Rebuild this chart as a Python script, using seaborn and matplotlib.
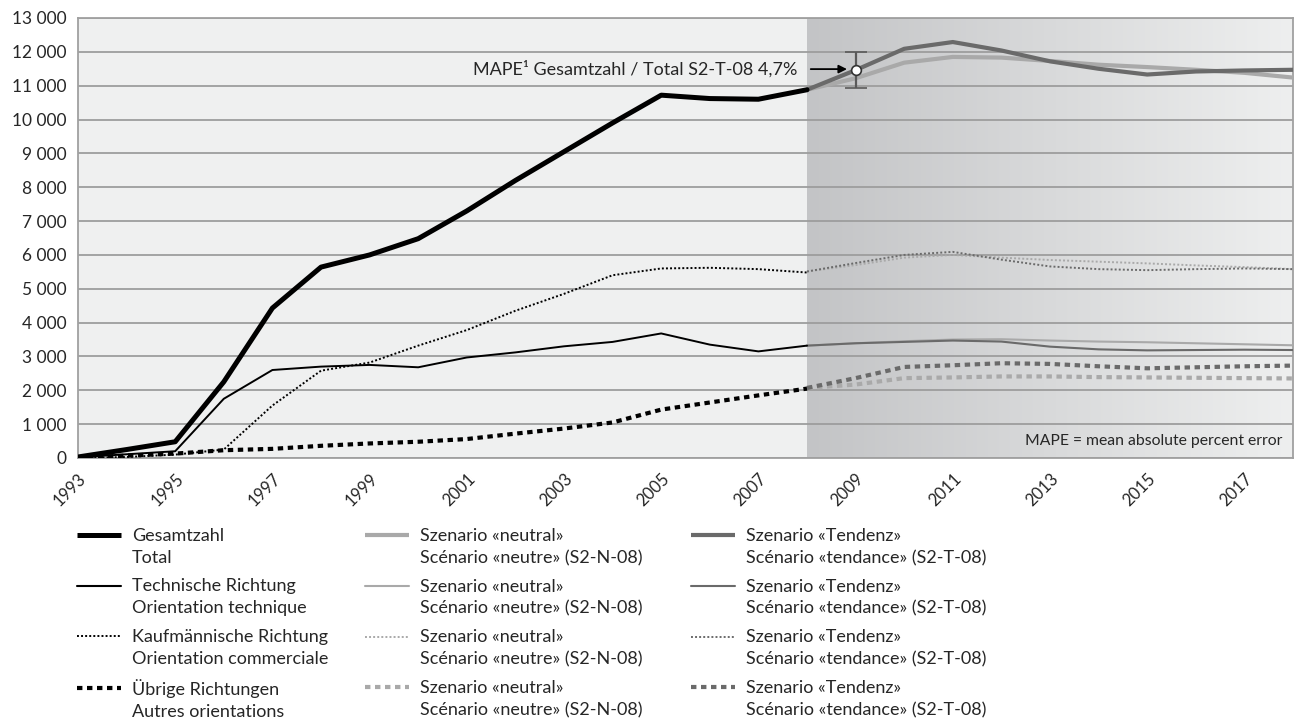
import numpy as np
import pandas as pd
import matplotlib
matplotlib.use("Agg")
import matplotlib.pyplot as plt
import seaborn as sns
from matplotlib.lines import Line2D
from matplotlib.legend_handler import HandlerLine2D
from matplotlib.colors import LinearSegmentedColormap
from matplotlib.ticker import FuncFormatter, MultipleLocator

# observed series 1993-2008
years_obs = list(range(1993, 2009))
total_obs = [30, 250, 480, 2250, 4430, 5640, 6000, 6480, 7300, 8200, 9050, 9900, 10720, 10620, 10600, 10880]
tech_obs = [20, 110, 200, 1750, 2600, 2700, 2750, 2680, 2970, 3120, 3300, 3430, 3680, 3350, 3150, 3320]
comm_obs = [0, 30, 100, 250, 1550, 2580, 2820, 3320, 3780, 4350, 4850, 5400, 5600, 5620, 5580, 5480]
other_obs = [10, 70, 130, 230, 270, 360, 430, 480, 560, 720, 870, 1050, 1430, 1640, 1850, 2050]

# scenarios 2008-2018
years_sc = list(range(2008, 2019))
total_t = [10880, 11460, 12090, 12290, 12040, 11720, 11500, 11330, 11420, 11450, 11470]
total_n = [10880, 11220, 11680, 11850, 11830, 11730, 11620, 11550, 11470, 11380, 11240]
tech_t = [3320, 3390, 3430, 3470, 3440, 3290, 3210, 3180, 3190, 3200, 3190]
tech_n = [3320, 3390, 3450, 3500, 3510, 3470, 3440, 3420, 3390, 3360, 3330]
comm_t = [5510, 5760, 6000, 6090, 5860, 5660, 5580, 5550, 5580, 5600, 5580]
comm_n = [5510, 5700, 5920, 6000, 5920, 5850, 5800, 5750, 5690, 5640, 5580]
other_t = [2070, 2360, 2690, 2740, 2800, 2780, 2710, 2650, 2680, 2710, 2730]
other_n = [2070, 2170, 2360, 2380, 2410, 2410, 2390, 2380, 2370, 2360, 2350]

mape_year = 2009
mape_value = 11460
mape_low = 10930
mape_high = 12000

legend_col1 = ["Gesamtzahl\nTotal", "Technische Richtung\nOrientation technique",
               "Kaufmännische Richtung\nOrientation commerciale", "Übrige Richtungen\nAutres orientations"]
legend_col2 = ["Szenario «neutral»\nScénario «neutre» (S2-N-08)"] * 4
legend_col3 = ["Szenario «Tendenz»\nScénario «tendance» (S2-T-08)"] * 4

sns.set_style("white")
plt.rcParams['font.family'] = ['Lato', 'DejaVu Sans']
plt.rcParams['font.size'] = 12

BLACK = "#000000"
TEND = "#6a6a6a"
NEUT = "#a9a9a9"

fig = plt.figure(figsize=(13.03, 7.18), dpi=100)
ax = fig.add_axes([78 / 1303, 1 - 458 / 718, 1215 / 1303, 440 / 718])
ax.set_facecolor("#eff0f0")

# shaded forecast region
cmap = LinearSegmentedColormap.from_list("shade", ["#c3c4c6", "#eeefef"])
grad = np.linspace(0, 1, 256).reshape(1, -1)
ax.imshow(grad, extent=[2008, 2018, 0, 13000], aspect="auto", cmap=cmap, zorder=0)

dotted = (0, (1, 1.1))
dashed = (0, (1.3, 1.1))

styles = [
    # (x, y, color, lw, linestyle)
    (years_sc, other_n, NEUT, 3.0, dashed),
    (years_sc, other_t, TEND, 3.0, dashed),
    (years_sc, comm_n, NEUT, 1.4, dotted),
    (years_sc, comm_t, TEND, 1.4, dotted),
    (years_sc, tech_n, NEUT, 1.5, "-"),
    (years_sc, tech_t, TEND, 1.5, "-"),
    (years_sc, total_n, NEUT, 3.0, "-"),
    (years_sc, total_t, TEND, 3.0, "-"),
    (years_obs, other_obs, BLACK, 3.0, dashed),
    (years_obs, comm_obs, BLACK, 1.4, dotted),
    (years_obs, tech_obs, BLACK, 1.4, "-"),
    (years_obs, total_obs, BLACK, 3.6, "-"),
]
for xs, ys, c, lw, ls in styles:
    sns.lineplot(x=xs, y=ys, ax=ax, color=c, linewidth=lw, linestyle=ls, zorder=3)
    ax.lines[-1].set_dash_capstyle("butt")

# MAPE error bar
ax.errorbar([mape_year], [mape_value],
            yerr=[[mape_value - mape_low], [mape_high - mape_value]],
            fmt="o", color="#5a5a5a", ecolor="#5a5a5a", elinewidth=1.6, capsize=8, capthick=1.6,
            markersize=7, markerfacecolor="white", markeredgecolor="#333333", markeredgewidth=1.2, zorder=5)
ax.annotate("", xy=(2008.88, mape_value + 30), xytext=(2008.02, mape_value + 30),
            arrowprops=dict(arrowstyle="-|>", color="black", lw=1.3, mutation_scale=12), zorder=6)
ax.text(2007.8, mape_value + 30, "MAPE¹ Gesamtzahl / Total S2-T-08 4,7%",
        ha="right", va="center", fontsize=13, zorder=6)
ax.text(0.991, 0.022, "MAPE = mean absolute percent error", transform=ax.transAxes,
        ha="right", va="bottom", fontsize=11.3, zorder=6)

ax.set_xlim(1993, 2018)
ax.set_ylim(0, 13000)
ax.yaxis.set_major_locator(MultipleLocator(1000))
ax.yaxis.set_major_formatter(FuncFormatter(lambda v, p: f"{int(v):,}".replace(",", " ")))
ax.set_xticks(list(range(1993, 2019, 2)) + [2018])
ax.set_xticklabels([str(y) for y in range(1993, 2019, 2)] + [""])
plt.setp(ax.get_xticklabels(), rotation=45, ha="right", rotation_mode="anchor")
ax.tick_params(axis="x", length=5, width=1, color="#999999", labelsize=12, pad=4)
ax.tick_params(axis="y", length=0, labelsize=12.5, pad=8)
ax.grid(axis="y", color="#9d9d9d", lw=1.3)
ax.set_axisbelow(True)
for s in ax.spines.values():
    s.set_color("#a0a0a0")
    s.set_linewidth(1.3)
ax.set_xlabel("")
ax.set_ylabel("")


class UpHandler(HandlerLine2D):
    # put the legend line next to the first line of a two-line label
    def create_artists(self, legend, orig_handle, xdescent, ydescent, width, height, fontsize, trans):
        arts = super().create_artists(legend, orig_handle, xdescent, ydescent, width, height, fontsize, trans)
        for a in arts:
            a.set_ydata(np.asarray(a.get_ydata()) + 0.65 * fontsize)
        return arts


def make_handles(colors):
    return [
        Line2D([], [], color=colors, lw=3.6 if colors == BLACK else 3.0, solid_capstyle="butt"),
        Line2D([], [], color=colors, lw=1.5),
        Line2D([], [], color=colors, lw=1.4, linestyle=dotted, dash_capstyle="butt"),
        Line2D([], [], color=colors, lw=3.0, linestyle=dashed, dash_capstyle="butt"),
    ]


for x0, colr, labels in [(77, BLACK, legend_col1), (365, NEUT, legend_col2), (691, TEND, legend_col3)]:
    leg = fig.legend(make_handles(colr), labels, loc="upper left",
                     bbox_to_anchor=(x0 / 1303, 1 - 528 / 718), frameon=False,
                     fontsize=13, handlelength=2.45, handletextpad=0.6, labelspacing=0.7,
                     borderpad=0, borderaxespad=0, handler_map={Line2D: UpHandler()})
    for t in leg.get_texts():
        t.set_linespacing(1.45)

fig.savefig("out.png", dpi=100)
